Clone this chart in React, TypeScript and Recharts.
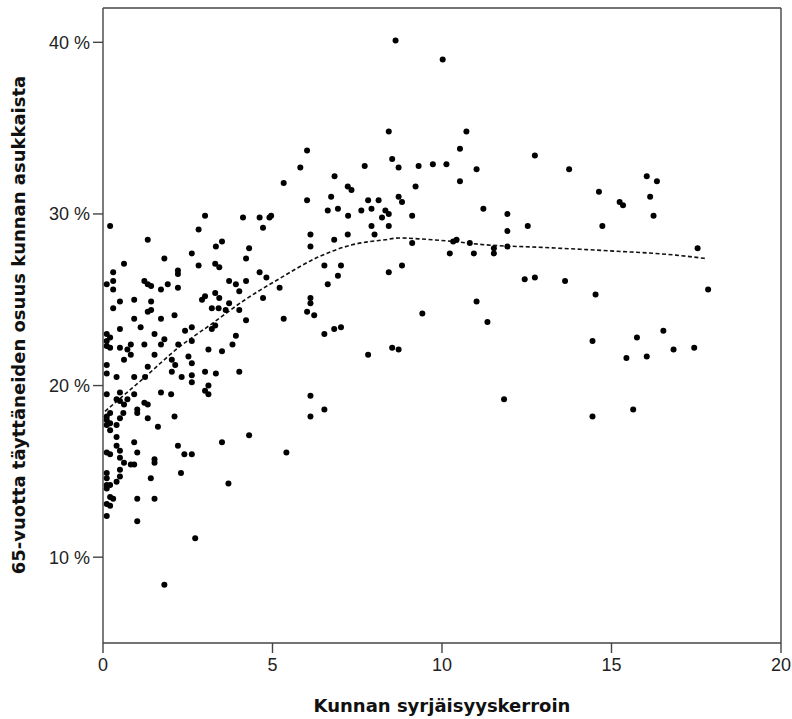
import { ComposedChart, Scatter, Line, XAxis, YAxis, ReferenceLine } from 'recharts';

// Kunnan syrjäisyyskerroin (x) ja 65-vuotta täyttäneiden osuus % (y)
const syrjaisyys = [
  8.63, 10.02, 8.43, 10.72, 6.02, 10.53, 5.82, 7.72, 8.53, 8.72, 9.31, 9.73, 10.13, 11.02,
  5.33, 6.83, 7.22, 7.33, 9.22, 10.53, 6.02, 6.73, 7.82, 8.13, 8.72, 8.82, 6.63, 6.93,
  7.62, 7.92, 8.33, 8.43, 8.23, 7.23, 9.12, 11.22, 12.74, 13.75, 14.63, 15.24, 15.34, 16.04,
  16.34, 16.14, 16.24, 11.93, 3.01, 4.13, 4.62, 4.91, 4.96, 0.21, 2.82, 4.72, 1.32, 3.51,
  3.33, 4.31, 2.62, 4.22, 1.81, 0.62, 2.82, 3.31, 3.43, 2.21, 2.21, 0.3, 4.62, 4.82,
  0.11, 0.3, 0.3, 1.22, 1.32, 1.42, 1.71, 1.91, 2.21, 3.72, 3.92, 4.02, 4.22, 5.21,
  0.5, 0.92, 1.42, 2.92, 3.01, 3.31, 3.43, 3.72, 4.72, 0.3, 1.32, 1.42, 3.21, 3.41,
  3.62, 4.02, 0.92, 1.71, 2.11, 4.22, 5.33, 0.5, 1.11, 2.42, 2.62, 3.21, 3.31, 0.11,
  0.21, 0.11, 1.52, 1.81, 1.71, 1.22, 0.82, 0.5, 0.72, 0.82, 0.21, 0.11, 2.22, 2.62,
  3.92, 3.82, 3.51, 3.11, 1.52, 2.03, 2.52, 0.62, 0.11, 2.62, 2.13, 1.32, 2.03, 3.01,
  4.02, 0.11, 3.33, 0.4, 1.24, 0.92, 2.32, 2.62, 2.62, 3.11, 3.01, 3.11, 1.71, 2.01,
  0.5, 0.92, 0.11, 0.72, 0.5, 0.4, 1.22, 1.32, 0.62, 1.01, 1.01, 0.6, 0.21, 0.11,
  0.5, 1.32, 2.11, 0.11, 0.21, 0.11, 0.4, 1.62, 0.21, 0.4, 4.31, 3.51, 0.92, 0.4,
  2.21, 0.5, 1.01, 0.11, 0.21, 2.4, 2.62, 5.41, 0.5, 1.52, 1.52, 0.62, 0.82, 0.92,
  0.5, 0.11, 2.3, 0.5, 1.41, 0.11, 0.4, 3.7, 0.11, 0.21, 0.11, 0.21, 0.3, 1.01,
  1.52, 0.11, 0.21, 0.11, 1.01, 2.72, 1.81, 6.12, 6.82, 7.22, 7.92, 8.43, 8.01, 9.12,
  6.12, 10.33, 10.43, 10.82, 10.23, 10.94, 6.53, 7.02, 8.82, 6.93, 8.43, 6.63, 6.12, 6.12,
  6.02, 6.23, 11.02, 9.42, 6.53, 6.82, 7.02, 7.82, 8.53, 8.72, 6.12, 6.53, 6.12, 11.93,
  12.53, 14.73, 11.53, 11.53, 11.93, 17.54, 12.44, 12.74, 13.63, 14.53, 17.85, 11.34, 14.44, 15.75,
  16.53, 15.44, 16.04, 16.83, 17.44, 11.83, 14.44, 15.64,
];

const osuus = [
  40.1, 39.0, 34.8, 34.8, 33.7, 33.8, 32.7, 32.8, 33.2, 32.7, 32.8, 32.9, 32.9, 32.6,
  31.8, 32.2, 31.6, 31.4, 31.6, 31.9, 30.8, 31.0, 30.8, 30.8, 31.0, 30.7, 30.2, 30.3,
  30.2, 30.3, 30.2, 30.0, 29.8, 29.9, 29.9, 30.3, 33.4, 32.6, 31.3, 30.7, 30.5, 32.2,
  31.9, 31.0, 29.9, 30.0, 29.9, 29.8, 29.8, 29.8, 29.9, 29.3, 29.1, 29.2, 28.5, 28.4,
  28.1, 28.0, 27.7, 27.4, 27.4, 27.1, 27.0, 27.1, 26.9, 26.7, 26.5, 26.6, 26.6, 26.3,
  25.9, 26.1, 25.6, 26.1, 25.9, 25.8, 25.6, 25.9, 25.7, 26.1, 25.9, 25.5, 26.1, 25.7,
  24.9, 25.0, 24.9, 25.0, 25.2, 25.4, 25.1, 24.8, 25.1, 24.5, 24.3, 24.4, 24.5, 24.5,
  24.4, 24.4, 23.9, 23.9, 24.1, 23.8, 23.9, 23.3, 23.4, 23.2, 23.4, 23.3, 23.5, 23.0,
  22.8, 22.6, 23.0, 22.7, 22.4, 22.4, 22.4, 22.2, 22.1, 21.8, 22.2, 22.3, 22.4, 22.6,
  22.9, 22.4, 22.0, 22.1, 21.8, 21.5, 21.7, 21.5, 21.2, 21.3, 21.2, 21.1, 20.8, 20.8,
  20.8, 20.7, 20.7, 20.5, 20.5, 20.5, 20.5, 20.6, 20.2, 20.0, 19.7, 19.5, 19.6, 19.5,
  19.6, 19.5, 19.5, 19.2, 19.1, 19.2, 19.0, 18.9, 18.9, 18.6, 18.4, 18.4, 18.4, 18.2,
  18.1, 18.1, 18.2, 18.0, 17.8, 17.7, 17.7, 17.6, 17.4, 17.0, 17.1, 16.7, 16.7, 16.5,
  16.5, 16.2, 16.1, 16.1, 16.0, 16.0, 16.0, 16.1, 15.8, 15.7, 15.5, 15.5, 15.4, 15.4,
  15.1, 14.9, 14.9, 14.7, 14.6, 14.6, 14.4, 14.3, 14.2, 14.2, 14.0, 13.5, 13.4, 13.4,
  13.4, 13.1, 13.0, 12.4, 12.1, 11.1, 8.4, 28.8, 28.5, 28.8, 29.3, 29.3, 28.8, 28.3,
  28.1, 28.4, 28.5, 28.3, 27.7, 27.7, 27.0, 27.0, 27.0, 26.4, 26.6, 25.9, 25.1, 24.8,
  24.3, 24.1, 24.9, 24.2, 23.0, 23.3, 23.4, 21.8, 22.2, 22.1, 19.4, 18.6, 18.2, 29.0,
  29.3, 29.3, 28.0, 27.7, 28.1, 28.0, 26.2, 26.3, 26.1, 25.3, 25.6, 23.7, 22.6, 22.8,
  23.2, 21.6, 21.7, 22.1, 22.2, 19.2, 18.2, 18.6,
];

// sovitettu käyrä (katkoviiva)
const loessX = [0.06, 1.24, 2.22, 3.21, 4.19, 5.18, 6.36, 7.35, 8.33, 8.72, 9.31, 10.3, 11.29, 12.96, 14.93, 16.9, 17.79];
const loessY = [18.5, 20.5, 22.2, 23.6, 25.0, 26.2, 27.5, 28.2, 28.5, 28.6, 28.55, 28.4, 28.2, 28.05, 27.85, 27.6, 27.4];

const xTicks = [0, 5, 10, 15, 20];
const yTicks = [10, 20, 30, 40];

const points = syrjaisyys.map((x, i) => ({ x, y: osuus[i] }));
const loess = loessX.map((x, i) => ({ x, y: loessY[i] }));

const Dot = (props: any) => {
  const { cx, cy } = props;
  if (cx == null || cy == null) return null;
  return <circle cx={cx} cy={cy} r={3} fill="#000" />;
};

const tickStyle = { fontFamily: '"Liberation Sans", Arial, sans-serif', fontSize: 18, fill: '#222' };
const frame = '#444';

export default function App() {
  return (
    <div style={{ position: 'absolute', left: 0, top: 0, width: 792, height: 719, background: '#fff' }}>
      <ComposedChart
        width={792}
        height={719}
        margin={{ top: 8, right: 11, bottom: 36, left: 43 }}
      >
        <XAxis
          type="number"
          dataKey="x"
          domain={[0, 20]}
          ticks={xTicks}
          height={40}
          tickSize={10}
          tickMargin={5}
          tick={tickStyle}
          axisLine={{ stroke: frame, strokeWidth: 1.4 }}
          tickLine={{ stroke: frame, strokeWidth: 1.4 }}
          allowDataOverflow
        />
        <YAxis
          type="number"
          dataKey="y"
          domain={[5, 42]}
          ticks={yTicks}
          width={60}
          tickSize={10}
          tickMargin={3}
          tick={tickStyle}
          tickFormatter={(v: number) => `${v} %`}
          axisLine={{ stroke: frame, strokeWidth: 1.4 }}
          tickLine={{ stroke: frame, strokeWidth: 1.4 }}
          allowDataOverflow
        />
        <ReferenceLine y={42} stroke={frame} strokeWidth={1.4} />
        <ReferenceLine x={20} stroke={frame} strokeWidth={1.4} />
        <Scatter data={points} dataKey="y" shape={<Dot />} isAnimationActive={false} />
        <Line
          data={loess}
          dataKey="y"
          type="monotone"
          stroke="#111"
          strokeWidth={1.6}
          strokeDasharray="4 2.5"
          dot={false}
          activeDot={false}
          isAnimationActive={false}
        />
      </ComposedChart>
      <div
        style={{
          position: 'absolute',
          left: 103,
          width: 678,
          top: 696,
          textAlign: 'center',
          fontFamily: '"DejaVu Sans", sans-serif',
          fontWeight: 'bold',
          fontSize: 18,
          lineHeight: '20px',
          color: '#111',
          whiteSpace: 'nowrap',
        }}
      >
        Kunnan syrjäisyyskerroin
      </div>
      <div
        style={{
          position: 'absolute',
          left: 19,
          top: 325,
          transform: 'translate(-50%, -50%) rotate(-90deg)',
          fontFamily: '"DejaVu Sans", sans-serif',
          fontWeight: 'bold',
          fontSize: 18,
          lineHeight: '20px',
          color: '#111',
          whiteSpace: 'nowrap',
        }}
      >
        65-vuotta täyttäneiden osuus kunnan asukkaista
      </div>
    </div>
  );
}
